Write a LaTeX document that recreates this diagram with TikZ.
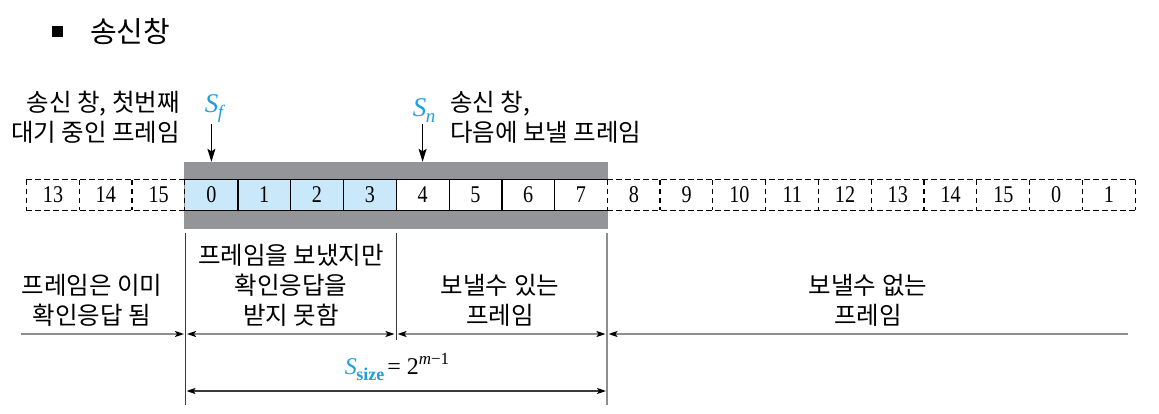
\documentclass[tikz,border=0pt]{standalone}
\usepackage{fontspec}
\newfontfamily\kr{Noto Sans CJK KR}
\newfontfamily\tms{Liberation Serif}
\usetikzlibrary{arrows.meta}
\definecolor{bandgray}{HTML}{939598}
\definecolor{cellblue}{HTML}{C9E9FA}
\definecolor{sblue}{HTML}{1E9FE0}
\definecolor{linegray}{HTML}{8E8E8E}
\definecolor{darkline}{HTML}{3A3A3A}
\tikzset{
  krtext/.style={font=\kr\fontsize{24.5}{30}\selectfont, inner sep=0pt},
  cellbox/.style={minimum width=52.8pt, minimum height=30.5pt, inner sep=0pt, font=\tms\fontsize{24}{26}\selectfont},
  solidline/.style={line width=1.5pt, black},
  dashline/.style={line width=1.3pt, black, dash pattern=on 5.5pt off 3.5pt},
  ptr/.style={line width=1.1pt, -{Stealth[length=13pt,width=8pt,inset=2.5pt]}},
  grayline/.style={line width=1.6pt, linegray},
  darkv/.style={line width=1pt, darkline},
  mathlab/.style={font=\tms\fontsize{27}{30}\selectfont, inner sep=1pt},
  dimtip/.tip={Stealth[length=9pt,width=6pt,inset=2pt,color=black]}
}
\newcommand{\cnum}[1]{\scalebox{0.84}[1]{#1}}
\newcommand{\sub}[1]{\raisebox{-6pt}{\fontsize{19}{20}\selectfont #1}}
\begin{document}
\begin{tikzpicture}[x=1pt,y=-1pt]
\useasboundingbox (0,0) rectangle (1159,414);

% title
\node[fill=black, minimum size=10.5pt, inner sep=0pt] (sq) at (57.5,31.5) {};
\node[anchor=west, font=\kr\fontsize{29}{32}\selectfont, inner sep=0pt] (title) at (90,32) {송신창};

% gray band
\node[fill=bandgray, minimum width=424pt, minimum height=67pt, inner sep=0pt] (band) at (396,195.5) {};

% cells
\foreach \lab [count=\k from -3] in {13,14,15,0,1,2,3,4,5,6,7,8,9,10,11,12,13,14,15,0,1}{
  \node[cellbox] (c\k) at ({185+(\k+0.5)*52.8},195) {};
}
\foreach \k in {0,1,2,3}{
  \fill[cellblue] (c\k.north west) rectangle (c\k.south east);
}
\foreach \k in {4,5,6,7}{
  \fill[white] (c\k.north west) rectangle (c\k.south east);
}
\foreach \lab [count=\k from -3] in {13,14,15,0,1,2,3,4,5,6,7,8,9,10,11,12,13,14,15,0,1}{
  \node[cellbox] (n\k) at (c\k) {\cnum{\lab}};
}
% solid part borders
\draw[solidline] (c0.north west) -- (c7.north east);
\draw[solidline] (c0.south west) -- (c7.south east);
\foreach \k in {0,...,6}{
  \draw[line width=1.3pt] (c\k.north east) -- (c\k.south east);
}
% dashed parts
\draw[dashline] (c-3.north west) -- (c-1.north east);
\draw[dashline] (c-3.south west) -- (c-1.south east);
\draw[dashline] (c8.north west) -- (c17.north east);
\draw[dashline] (c8.south west) -- (c17.south east);
\foreach \k in {-3,-2,-1,0}{
  \draw[dashline] (c\k.north west) -- (c\k.south west);
}
\foreach \k in {8,...,17}{
  \draw[dashline] (c\k.north west) -- (c\k.south west);
}
\draw[dashline] (c17.north east) -- (c17.south east);

% top pointers
\node[mathlab, text=sblue, anchor=south] (sf) at (214,124) {\itshape S\kern-0.5pt\sub{f}};
\node[mathlab, text=sblue, anchor=south] (sn) at (424,124) {\itshape S\kern-0.5pt\sub{n}};
\draw[ptr] (sf.south -| c0) -- (band.north -| c0);
\draw[ptr] (sn.south -| c4) -- (band.north -| c4);

\node[krtext, align=right, anchor=east] (lt) at (180,117) {송신 창, 첫번째\\대기 중인 프레임};
\node[krtext, align=left, anchor=west] (rt) at (450,117) {송신 창,\\다음에 보낼 프레임};

% vertical dividers
\coordinate (v1t) at (185.5,233);
\coordinate (v1b) at (185.5,405);
\coordinate (v2t) at (396,233);
\coordinate (v2b) at (396,340);
\coordinate (v3t) at (607,233);
\coordinate (v3b) at (607,405);
\draw[darkv] (v1t) -- (v1b);
\draw[darkv, line width=0.9pt] (v2t) -- (v2b);
\draw[grayline, line width=1.8pt] (v3t) -- (v3b);

% bottom labels
\node[krtext, align=center] (t1) at (92,300) {프레임은 이미\\확인응답 됨};
\node[krtext, align=center] (t2) at (291,285) {프레임을 보냈지만\\확인응답을\\받지 못함};
\node[krtext, align=center] (t3) at (500,300) {보낼수 있는\\프레임};
\node[krtext, align=center] (t4) at (868,300) {보낼수 없는\\프레임};

% dimension arrows
\coordinate (hl) at (21,334);
\coordinate (hr) at (1128,334);
\draw[grayline, -dimtip, shorten >=1.5pt] (hl) -- (v1b |- hl);
\draw[grayline, dimtip-dimtip, shorten <=1.5pt, shorten >=1.5pt] (v1b |- hl) -- (v2b |- hl);
\draw[grayline, dimtip-dimtip, shorten <=1.5pt, shorten >=1.5pt] (v2b |- hl) -- (v3b |- hl);
\draw[grayline, -dimtip, shorten >=1.5pt] (hr) -- (v3b |- hr);

\node[font=\tms\fontsize{24}{28}\selectfont, inner sep=1pt] (ssize) at (397,367)
  {{\color{sblue}\itshape S\kern-0.5pt\raisebox{-6pt}{\upshape\bfseries\fontsize{18}{20}\selectfont size}}\kern3pt = 2\raisebox{10pt}{\fontsize{17}{20}\selectfont\itshape m\upshape −1}};
\coordinate (bl) at (185.5,391);
\coordinate (br) at (607,391);
\draw[line width=1.3pt, darkline, dimtip-dimtip, shorten <=1pt, shorten >=1pt] (bl) -- (br);
\end{tikzpicture}
\end{document}
